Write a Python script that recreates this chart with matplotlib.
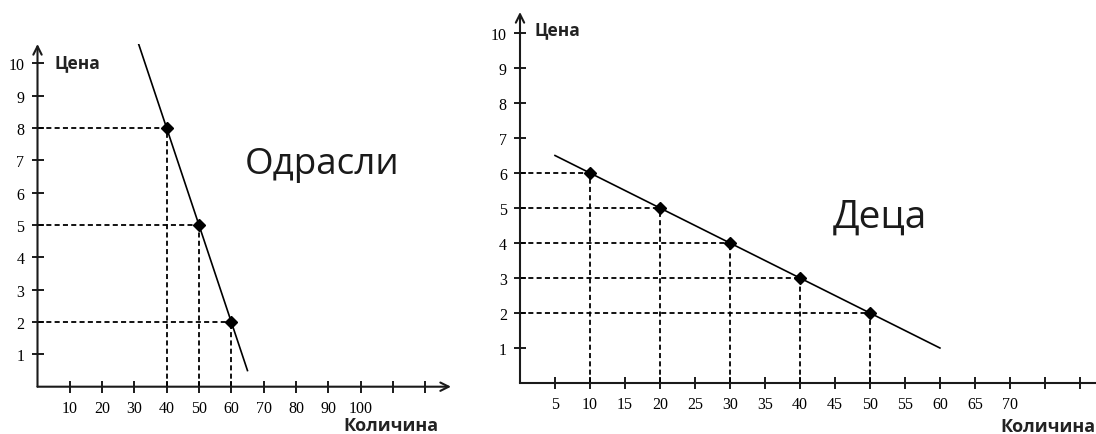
import matplotlib.pyplot as plt

# data
adult_q = [40, 50, 60]
adult_p = [8, 5, 2]
adult_line_q = [31.3, 65]
adult_line_p = [10.6, 0.5]

child_q = [10, 20, 30, 40, 50]
child_p = [6, 5, 4, 3, 2]
child_line_q = [5, 60]
child_line_p = [6.5, 1]

adult_xticks = [10, 20, 30, 40, 50, 60, 70, 80, 90, 100, 110, 120]
adult_xlabels = ['10', '20', '30', '40', '50', '60', '70', '80', '90', '100', '', '']
child_xticks = [5, 10, 15, 20, 25, 30, 35, 40, 45, 50, 55, 60, 65, 70, 75, 80]
child_xlabels = ['5', '10', '15', '20', '25', '30', '35', '40', '45', '50', '55', '60', '65', '70', '', '']
price_ticks = [1, 2, 3, 4, 5, 6, 7, 8, 9, 10]

W, H = 1096, 435
fig = plt.figure(figsize=(W / 100, H / 100), dpi=100)

tick_font = {'family': 'Liberation Serif', 'size': 11.5}
label_font = dict(family=['Open Sans', 'DejaVu Sans'])
dash = (0, (2.8, 1.8))


def make_axes(left, right, bottom, top, xmax, ymax):
    ax = fig.add_axes([left / W, 1 - bottom / H, (right - left) / W, (bottom - top) / H])
    ax.set_xlim(0, xmax)
    ax.set_ylim(0, ymax)
    for s in ['top', 'right', 'left', 'bottom']:
        ax.spines[s].set_visible(False)
    ax.tick_params(direction='inout', length=8, width=1.4, pad=5.5, color='#1a1a1a')
    ax.set_yticks(price_ticks)
    ax.set_yticklabels([str(t) for t in price_ticks], fontdict=tick_font)
    return ax


def draw_panel(ax, q, p, lq, lp, arrow_x):
    for x, y in zip(q, p):
        ax.plot([0, x], [y, y], color='black', lw=1.3, ls=dash)
        ax.plot([x, x], [0, y], color='black', lw=1.3, ls=dash)
    ax.plot(lq, lp, color='black', lw=1.2)
    ax.plot(q, p, 'D', color='black', markersize=6)
    arrow = dict(arrowstyle='->,head_length=0.6,head_width=0.3', color='#1a1a1a', lw=1.5,
                 shrinkA=0, shrinkB=0)
    ax.annotate('', xy=(0, 1), xytext=(0, 0), xycoords='axes fraction', arrowprops=arrow,
                annotation_clip=False)
    if arrow_x:
        ax.annotate('', xy=(1, 0), xytext=(0, 0), xycoords='axes fraction', arrowprops=arrow,
                    annotation_clip=False)
    else:
        ax.spines['bottom'].set_visible(True)
        ax.spines['bottom'].set_linewidth(1.5)
        ax.spines['bottom'].set_color('#1a1a1a')


# left panel: adults
ax1 = make_axes(37.5, 451, 387.7, 45, 128, 10.6)
ax1.set_xticks(adult_xticks)
ax1.set_xticklabels(adult_xlabels, fontdict=tick_font)
draw_panel(ax1, adult_q, adult_p, adult_line_q, adult_line_p, True)
ax1.text(5.2, 10.05, 'Цена', fontsize=12.5, fontweight='bold', va='center', ha='left',
         color='#222222', **label_font)
ax1.text(124, -1.2, 'Количина', fontsize=13, fontweight='bold', va='center', ha='right',
         color='#222222', clip_on=False, **label_font)
ax1.text(88, 6.9, 'Одрасли', fontsize=26.5, va='center', ha='center', color='#1a1a1a', **label_font)

# right panel: children
ax2 = make_axes(520, 1096, 384, 13, 82.3, 10.6)
ax2.set_xticks(child_xticks)
ax2.set_xticklabels(child_xlabels, fontdict=tick_font)
draw_panel(ax2, child_q, child_p, child_line_q, child_line_p, False)
ax2.text(2.1, 10.1, 'Цена', fontsize=12.5, fontweight='bold', va='center', ha='left',
         color='#222222', **label_font)
ax2.text(82.3, -1.23, 'Количина', fontsize=13, fontweight='bold', va='center', ha='right',
         color='#222222', clip_on=False, **label_font)
ax2.text(51.4, 4.75, 'Деца', fontsize=28, va='center', ha='center', color='#1a1a1a', **label_font)

fig.savefig('out.png', dpi=100)
